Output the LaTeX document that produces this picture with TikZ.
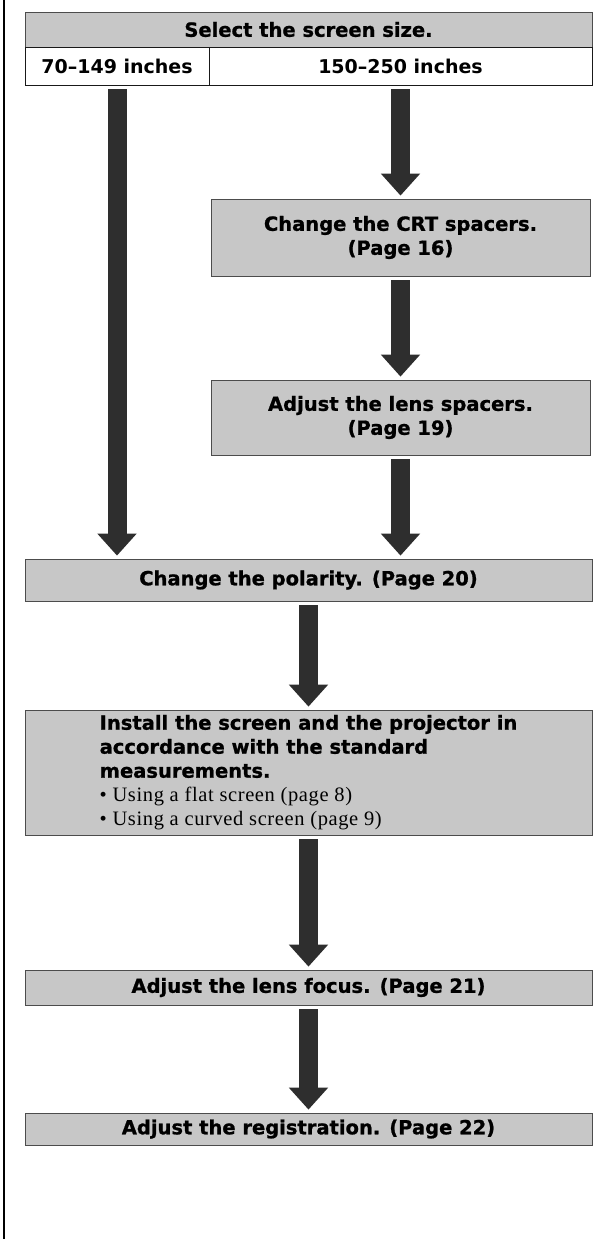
\documentclass[tikz,border=0pt]{standalone}
\usepackage{fontspec}
\setmainfont{Liberation Serif}
\newfontfamily\hvy[BoldFeatures={FakeBold=1.0}]{DejaVu Sans}
\newfontfamily\sansb{DejaVu Sans}
\newfontfamily\serifw[LetterSpace=3]{Liberation Serif}
\usetikzlibrary{arrows.meta}
\tikzset{
  graybox/.style={draw=black!70, line width=0.8pt, fill=black!22, inner sep=0pt,
    align=center, font=\hvy\bfseries\fontsize{19.5}{24}\selectfont},
  cellbox/.style={draw=black!90, line width=0.9pt, fill=white, inner sep=0pt,
    minimum height=38pt, font=\sansb\bfseries\fontsize{19}{21}\selectfont},
  flow/.style={line width=19pt, draw=black!82,
    -{Triangle[width=38pt,length=22pt]}, shorten >=3pt, shorten <=4pt}
}
\newcommand{\bulletline}[1]{{\serifw\mdseries\fontsize{20.5}{24}\selectfont #1}}
\begin{document}
\begin{tikzpicture}[x=1pt,y=-1pt]
\useasboundingbox (0,0) rectangle (595,1239);
\fill[white] (0,0) rectangle (595,1239);
\draw[line width=1.5pt] (4,0) -- (4,1239);

\node[graybox, minimum width=567pt, minimum height=35pt] (title) at (308.5,29.5) {Select the screen size.};
\node[cellbox, minimum width=184pt] (cellL) at (117,66) {70–149 inches};
\node[cellbox, minimum width=383pt] (cellR) at (400.5,66) {150–250 inches};

\node[graybox, minimum width=379pt, minimum height=77pt] (crt) at (400.5,237.5) {Change the CRT spacers.\\(Page 16)};
\node[graybox, minimum width=379pt, minimum height=75pt] (lens) at (400.5,417.5) {Adjust the lens spacers.\\(Page 19)};
\node[graybox, minimum width=567pt, minimum height=42pt] (pol) at (308.5,580) {Change the polarity. (Page 20)};
\node[graybox, minimum width=567pt, minimum height=125pt, align=left] (inst) at (308.5,772.5)
  {Install the screen and the projector in\\
   accordance with the standard\\
   measurements.\\
   \bulletline{• Using a flat screen (page 8)}\\
   \bulletline{• Using a curved screen (page 9)}};
\node[graybox, minimum width=567pt, minimum height=35pt] (focus) at (308.5,987.5) {Adjust the lens focus. (Page 21)};
\node[graybox, minimum width=567pt, minimum height=32pt] (reg) at (308.5,1129) {Adjust the registration. (Page 22)};

\draw[flow] (cellL.south) -- (cellL.south |- pol.north);
\draw[flow] (cellR.south) -- (crt.north);
\draw[flow] (crt.south) -- (lens.north);
\draw[flow] (lens.south) -- (lens.south |- pol.north);
\draw[flow] (pol.south) -- (inst.north);
\draw[flow] (inst.south) -- (focus.north);
\draw[flow] (focus.south) -- (reg.north);
\end{tikzpicture}
\end{document}
